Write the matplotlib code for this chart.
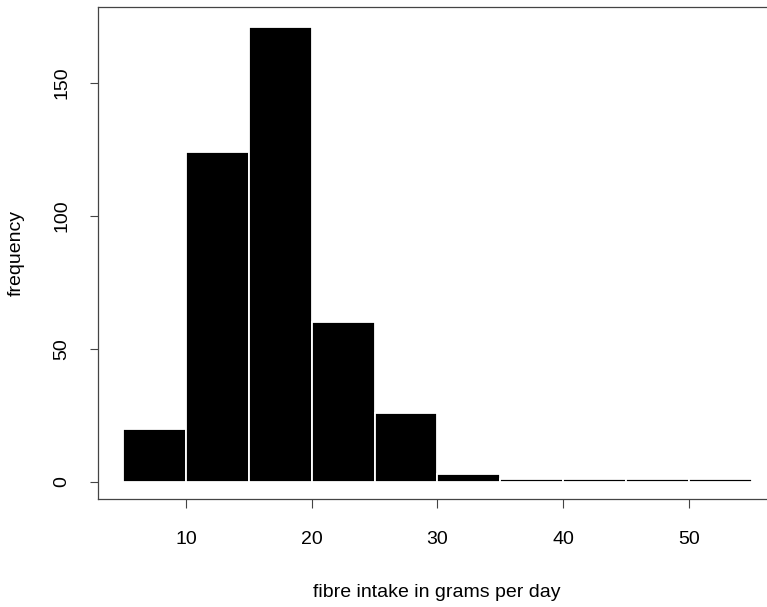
import matplotlib
matplotlib.use("Agg")
import matplotlib.pyplot as plt
import numpy as np

# Data
bin_edges = [5, 10, 15, 20, 25, 30, 35, 40, 45, 50, 55]
counts = [20, 124, 171, 60, 26, 3, 1, 1, 1, 1]
x_ticks = [10, 20, 30, 40, 50]
y_ticks = [0, 50, 100, 150]
x_label = "fibre intake in grams per day"
y_label = "frequency"

plt.rcParams['font.family'] = ['Liberation Sans', 'DejaVu Sans']

W, H = 767, 607
fig = plt.figure(figsize=(W / 100, H / 100), dpi=100)
# axes box in pixels: left 98, right 776 (beyond figure), top 7, bottom 499
left, right, top, bottom = 98, 776, 7, 499
ax = fig.add_axes([left / W, (H - bottom) / H, (right - left) / W, (bottom - top) / H])

lefts = np.array(bin_edges[:-1])
widths = np.diff(bin_edges)
ax.bar(lefts, counts, width=widths, align='edge', color='black',
       edgecolor='white', linewidth=1.3)

ax.set_xlim(3.0, 56.94)
ax.set_ylim(-6.5, 178.5)

ax.set_xticks(x_ticks)
ax.set_yticks(y_ticks)
ax.set_xticklabels([str(t) for t in x_ticks])
ax.set_yticklabels([str(t) for t in y_ticks], rotation=90, va='center')

for s in ax.spines.values():
    s.set_color('#444444')
    s.set_linewidth(0.9)

ax.tick_params(axis='x', length=6.5, width=0.8, color='#444444', pad=16.5,
               labelsize=14)
ax.tick_params(axis='y', length=6, width=0.8, color='#444444', pad=14,
               labelsize=14)

ax.set_xlabel(x_label, fontsize=14)
ax.xaxis.set_label_coords(0.5, -(584 - 499) / (bottom - top))
ax.xaxis.label.set_va('top')
ax.set_ylabel(y_label, fontsize=14)
ax.yaxis.set_label_coords((25 - 98) / (right - left), 0.5)

fig.savefig("out.png", dpi=100)
